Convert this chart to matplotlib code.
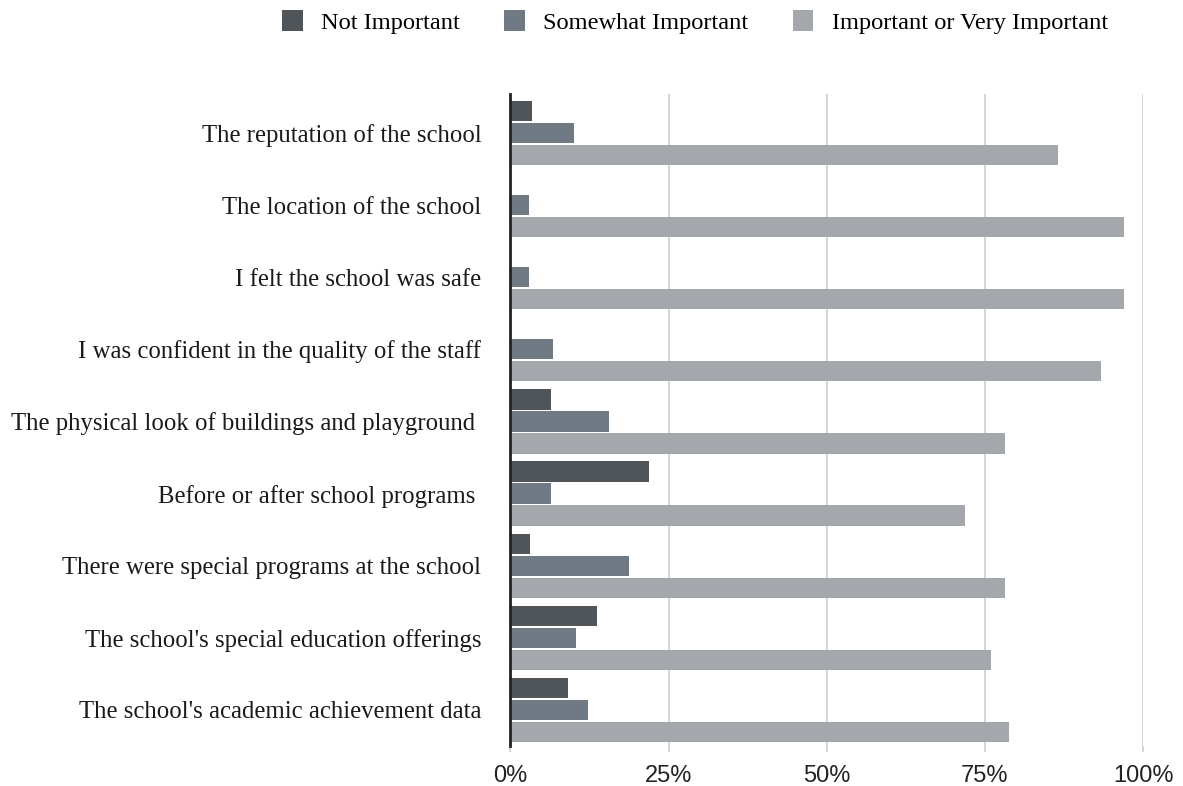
import matplotlib
matplotlib.use("Agg")
import matplotlib.pyplot as plt
import numpy as np
from matplotlib.patches import Patch

categories = [
    "The reputation of the school",
    "The location of the school",
    "I felt the school was safe",
    "I was confident in the quality of the staff",
    "The physical look of buildings and playground ",
    "Before or after school programs ",
    "There were special programs at the school",
    "The school's special education offerings",
    "The school's academic achievement data",
]
series_names = ["Not Important", "Somewhat Important", "Important or Very Important"]
not_important = [3.4, 0.0, 0.0, 0.0, 6.4, 21.9, 3.1, 13.7, 9.1]
somewhat_important = [10.1, 3.0, 3.0, 6.7, 15.5, 6.4, 18.8, 10.3, 12.2]
very_important = [86.6, 97.0, 97.0, 93.4, 78.2, 71.8, 78.2, 75.9, 78.8]
x_ticks = [0, 25, 50, 75, 100]
x_tick_labels = ["0%", "25%", "50%", "75%", "100%"]

colors = ["#50555a", "#707a84", "#a4a8ac"]
serif = ["Liberation Serif", "DejaVu Serif"]
sans = ["Liberation Sans", "DejaVu Sans"]

fig = plt.figure(figsize=(11.83, 7.86), dpi=100)
ax = fig.add_axes([0.4315, 0.0509, 0.5347, 0.8295])

y = np.arange(len(categories))
step = 0.305
height = 0.28
for k, (vals, col) in enumerate(zip([not_important, somewhat_important, very_important], colors)):
    ax.barh(y + (k - 1) * step, vals, height=height, color=col, zorder=3)

ax.set_xlim(0, 100)
ax.set_ylim(len(categories) - 0.5, -0.54)
ax.set_xticks(x_ticks)
ax.set_xticklabels(x_tick_labels, fontsize=17, family=sans, color="#222222")
ax.set_yticks(y)
ax.set_yticklabels(categories, fontsize=17.8, family=serif, color="#1a1a1a")
ax.tick_params(axis="y", length=0, pad=21)
ax.tick_params(axis="x", length=4, color="#d6d6d6", width=1.5, pad=10)
ax.grid(axis="x", color="#d6d6d6", linewidth=1.5, zorder=0)
for s in ["top", "right", "bottom"]:
    ax.spines[s].set_visible(False)
ax.spines["left"].set_color("#222222")
ax.spines["left"].set_linewidth(2)
ax.spines["left"].set_zorder(5)

handles = [Patch(facecolor=c, edgecolor="none") for c in colors]
fig.legend(handles, series_names, loc="center", bbox_to_anchor=(0.5875, 0.972),
           ncol=3, frameon=False, prop={"family": serif, "size": 17.6},
           handlelength=0.85, handleheight=0.95, columnspacing=1.8, handletextpad=0.75,
           borderpad=0.2)

fig.savefig("out.png", dpi=100, facecolor="white")
